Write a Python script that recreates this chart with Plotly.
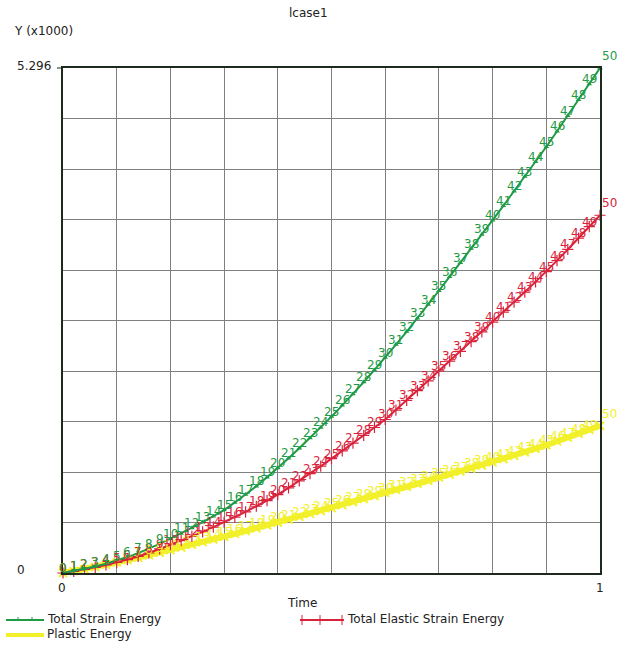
import plotly.graph_objects as go

# Increment numbers and the time of each increment
increments = list(range(51))
time = [0.00, 0.02, 0.04, 0.06, 0.08, 0.10, 0.12, 0.14, 0.16, 0.18,
        0.20, 0.22, 0.24, 0.26, 0.28, 0.30, 0.32, 0.34, 0.36, 0.38,
        0.40, 0.42, 0.44, 0.46, 0.48, 0.50, 0.52, 0.54, 0.56, 0.58,
        0.60, 0.62, 0.64, 0.66, 0.68, 0.70, 0.72, 0.74, 0.76, 0.78,
        0.80, 0.82, 0.84, 0.86, 0.88, 0.90, 0.92, 0.94, 0.96, 0.98, 1.00]

# Energies in units of 1000
total_strain = [0.000, 0.020, 0.042, 0.068, 0.097, 0.130, 0.167, 0.208, 0.255, 0.305,
                0.360, 0.415, 0.472, 0.533, 0.596, 0.660, 0.740, 0.823, 0.910, 1.003,
                1.100, 1.203, 1.308, 1.417, 1.527, 1.640, 1.758, 1.878, 2.002, 2.130,
                2.260, 2.395, 2.532, 2.672, 2.815, 2.960, 3.107, 3.253, 3.402, 3.551,
                3.700, 3.851, 4.003, 4.157, 4.313, 4.470, 4.633, 4.796, 4.962, 5.128, 5.296]

total_elastic = [0.000, 0.018, 0.038, 0.060, 0.084, 0.110, 0.140, 0.173, 0.210, 0.252,
                 0.296, 0.340, 0.385, 0.432, 0.481, 0.532, 0.586, 0.642, 0.700, 0.760,
                 0.822, 0.893, 0.967, 1.042, 1.120, 1.200, 1.280, 1.361, 1.443, 1.526,
                 1.610, 1.709, 1.810, 1.912, 2.015, 2.120, 2.222, 2.324, 2.426, 2.528,
                 2.630, 2.735, 2.840, 2.946, 3.053, 3.160, 3.276, 3.393, 3.512, 3.632, 3.752]

plastic = [0.000, 0.020, 0.041, 0.063, 0.086, 0.110, 0.135, 0.161, 0.187, 0.213,
           0.240, 0.268, 0.296, 0.324, 0.352, 0.380, 0.410, 0.440, 0.470, 0.500,
           0.530, 0.560, 0.590, 0.620, 0.650, 0.680, 0.712, 0.744, 0.776, 0.808,
           0.840, 0.872, 0.904, 0.936, 0.968, 1.000, 1.032, 1.064, 1.096, 1.128,
           1.160, 1.195, 1.230, 1.266, 1.303, 1.340, 1.380, 1.420, 1.461, 1.502, 1.544]

y_max = 5.296
x_grid = [0.0, 0.1, 0.2, 0.3, 0.4, 0.5, 0.6, 0.7, 0.8, 0.9, 1.0]
y_grid = [0.0, 0.5296, 1.0592, 1.5888, 2.1184, 2.648, 3.1776, 3.7072, 4.2368, 4.7664, 5.296]

GREEN = "#1f9a45"
RED = "#d9233b"
YELLOW = "#f2f02a"
FONT = "DejaVu Sans"
TEXT = "#222222"

labels = [str(i) for i in increments]

fig = go.Figure()

fig.add_trace(go.Scatter(
    x=time, y=plastic, mode="lines+markers",
    line=dict(color=YELLOW, width=6),
    marker=dict(symbol="x-thin", size=8, line=dict(color=YELLOW, width=2)),
    cliponaxis=False, showlegend=False))

fig.add_trace(go.Scatter(
    x=time, y=total_elastic, mode="lines+markers",
    line=dict(color=RED, width=2),
    marker=dict(symbol="cross-thin", size=8, line=dict(color=RED, width=1.2)),
    cliponaxis=False, showlegend=False))

fig.add_trace(go.Scatter(
    x=time, y=total_strain, mode="lines+markers",
    line=dict(color=GREEN, width=2),
    marker=dict(symbol="triangle-up", size=5, color=GREEN),
    cliponaxis=False, showlegend=False))

axis_common = dict(showgrid=True, gridcolor="#808080", gridwidth=1,
                   zeroline=False, showticklabels=False, ticks="",
                   showline=True, linecolor="#1d2a1d", linewidth=1.5, mirror=True)

fig.update_layout(
    width=617, height=647,
    margin=dict(l=63, r=17, t=68, b=74),
    paper_bgcolor="white", plot_bgcolor="white",
    font=dict(family=FONT, size=12, color=TEXT),
    xaxis=dict(range=[0, 1], tickvals=x_grid, **axis_common),
    yaxis=dict(range=[0, y_max], tickvals=y_grid, **axis_common),
)

annotations = []
shapes = []

# increment numbers written on each point of every curve; the last one sits off the end
for series, colour in [(plastic, YELLOW), (total_elastic, RED), (total_strain, GREEN)]:
    for i, (t, v, lab) in enumerate(zip(time, series, labels)):
        last = i == len(labels) - 1
        annotations.append(dict(
            text=lab, x=t, y=v, xref="x", yref="y", showarrow=False,
            xanchor="center", yanchor="middle",
            xshift=9 if last else 0, yshift=12 if last else 5,
            font=dict(size=12, color=colour, family=FONT)))


# page pixel positions are converted to paper coordinates of the plot area
def to_paper(px, py):
    x = (px - 63) / (617 - 63 - 17)
    y = (647 - 74 - py) / (647 - 68 - 74)
    return x, y


def page_text(text, px, py, anchor="left", size=12):
    x, y = to_paper(px, py)
    annotations.append(dict(
        text=text, x=x, y=y, xref="paper", yref="paper",
        xanchor=anchor, yanchor="middle", showarrow=False,
        font=dict(size=size, color=TEXT, family=FONT)))


def page_line(x0, y0, x1, y1, color, width):
    a0, b0 = to_paper(x0, y0)
    a1, b1 = to_paper(x1, y1)
    shapes.append(dict(type="line", xref="paper", yref="paper",
                       x0=a0, y0=b0, x1=a1, y1=b1,
                       line=dict(color=color, width=width)))


page_text("lcase1", 308, 13, "center")
page_text("Y (x1000)", 12, 31)
page_text("5.296", 53, 66, "right")
page_text("0", 15, 570)
page_text("0", 62, 588, "center")
page_text("1", 600, 588, "center")
page_text("Time", 302, 603, "center")

page_text("Total Strain Energy", 45, 619)
page_text("Total Elastic Strain Energy", 345, 619)
page_text("Plastic Energy", 45, 634)

# legend samples
page_line(6, 620, 44, 620, GREEN, 2)
for tx in [18, 32]:
    page_line(tx, 617, tx, 621, GREEN, 1)
page_line(300, 620, 344, 620, RED, 2)
for tx in [302, 320, 342]:
    page_line(tx, 615, tx, 625, RED, 1)
page_line(6, 635, 44, 635, YELLOW, 4)
# tick mark at the top value
page_line(57, 68, 63, 68, "#1d2a1d", 1)

fig.update_layout(annotations=annotations, shapes=shapes)

fig.write_html("out.html")
